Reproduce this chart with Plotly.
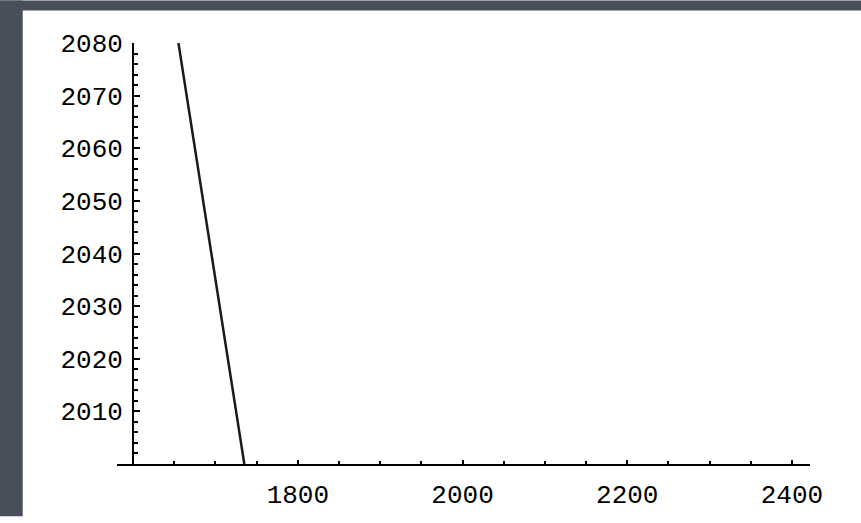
import plotly.graph_objects as go

# Line data (year vs. year)
line_x = [1655, 1735]
line_y = [2080, 2000]

# Axis ticks
x_ticks = [1800, 2000, 2200, 2400]
x_tick_labels = ["1800", "2000", "2200", "2400"]
y_ticks = [2010, 2020, 2030, 2040, 2050, 2060, 2070, 2080]
y_tick_labels = [str(v) for v in y_ticks]

W, H = 861, 523
L, R, T, B = 117, 51, 43, 53
x_range = [1580.4, 2421.9]
y_range = [2000, 2080]
y_axis_at = 1600

plot_w = W - L - R
plot_h = H - T - B
ypos = (y_axis_at - x_range[0]) / (x_range[1] - x_range[0])

font = dict(family="Liberation Mono, Courier New, monospace", size=26, color="black")

fig = go.Figure()
fig.add_trace(go.Scatter(
    x=line_x, y=line_y, mode="lines",
    line=dict(color="#1a1a1a", width=2.5),
    showlegend=False, hoverinfo="skip",
))

# Slate backdrop strips around the white panel
slate = "rgb(73,78,91)"
def px_to_paper_x(px):
    return (px - L) / plot_w
def px_to_paper_y(py):
    return (H - B - py) / plot_h

fig.add_shape(type="rect", xref="paper", yref="paper",
              x0=px_to_paper_x(0), x1=px_to_paper_x(22.7),
              y0=px_to_paper_y(H), y1=px_to_paper_y(0),
              fillcolor=slate, line=dict(width=0), layer="below")
fig.add_shape(type="rect", xref="paper", yref="paper",
              x0=px_to_paper_x(0), x1=px_to_paper_x(W),
              y0=px_to_paper_y(10), y1=px_to_paper_y(0),
              fillcolor=slate, line=dict(width=0), layer="below")

fig.update_layout(
    width=W, height=H,
    margin=dict(l=L, r=R, t=T, b=B, pad=0),
    paper_bgcolor="white", plot_bgcolor="white",
    font=font,
    xaxis=dict(
        range=x_range, showgrid=False, zeroline=False,
        showline=True, linecolor="black", linewidth=2,
        tickmode="array", tickvals=x_ticks, ticktext=x_tick_labels,
        ticks="inside", ticklen=4, tickwidth=1.5, tickcolor="black",
        minor=dict(ticks="inside", dtick=50, tick0=1600, ticklen=3,
                   tickwidth=1.5, tickcolor="black", showgrid=False),
        tickfont=font, ticklabelstandoff=6,
    ),
    yaxis=dict(
        range=y_range, showgrid=False, zeroline=False,
        anchor="free", position=ypos,
        showline=True, linecolor="black", linewidth=2,
        tickmode="array", tickvals=y_ticks, ticktext=y_tick_labels,
        ticks="inside", ticklen=6, tickwidth=1.5, tickcolor="black",
        minor=dict(ticks="inside", dtick=2, tick0=2000, ticklen=4,
                   tickwidth=1.5, tickcolor="black", showgrid=False),
        tickfont=font, ticklabelstandoff=4,
    ),
)

fig.write_html("out.html")
